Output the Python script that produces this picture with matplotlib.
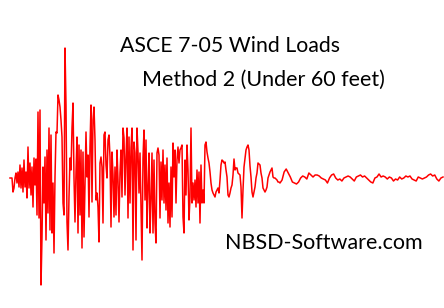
import numpy as np
import matplotlib.pyplot as plt

# amplitude of the trace (pixels above the rest line), one sample per pixel from x=10
head = [0, 0, 0, -14, -10, 0, 5, -5, 6, -9, 13, -10, 10, -14, 18, -9, 6, -20, 31, -10,
        15, -17, 11, -29, 20, -7, 19, -37, 66, -40, 68, -107, -59, 11, -25, 21, -62, 28, -35, 50,
        -52, 43, -55, -5, -75, 1, 46, 45, 83, 78,
        71, 58, 41, -25, -37, 130, 73, -44, -72, -19, 20, 8, 50, 75, 0, -44, 6, 41, -55, 33,
        -37, 28, -70, 26, -59, -5, 46, 1, 23, -39, 31, 73, -24, 58, 71, 38, -22, -15, -29, -64,
        15, 21, 11, -45, 43, 46, 13, 0, 38, 43,
        21, -49, 26, 3, -39, 11, -37, 28, -2, -44, 5, 28, -19, 50, 40, -17, 21, 50, -40, 41,
        -25, 30, 50, -72, 36, 25, -62, 50, 26, -15, 25, -27, -82, 20, 48, -22, 38, -50, -9, 25,
        -55, -22, 25, -55, 18, -45, -65, 25, 30, 23,
        -40, 16, -22, 28, -25, 13, -32, 20, -45, -5, -49, 11, -39, 35, 1, 28, -25, 18, 31, 15,
        28, 30, 33, -39, -55, 18, -17, 33, 8, -42, -19, 50, -25, -5, -22, -2, -29, 8, -25, 6,
        -45, 13, -25, -12, -25, 33, 36, 26, 20, 15,
        6, -5, -12, -15, -17, -19, -14, -12, -10, -15, -2, 13, 18, 17, 15, 16, 8, 1, -17, -19,
        -15, -10, -7, 3, 19, 8, 10, 10, 5, 4, 3, -9, -40, -12, 11, 20, 28, 31, 33, 28,
        12, 1, -14, -19, -14, -9, 0, 5, 15, 14, 13, 5, 0, -10, -12, -14, -12, -9, 0, 3,
        6, 8, 10, 1, 0, 0, -1, -2, -4, -4]

# slow decaying tail, roughly one sample every two pixels
tail = [-5, -2, 6, 9, 5, 1, -4, -5, -6, -4, 0, 2, 1, -1, 5, 3, 1, 3, 3, 2,
        0, -1, -2, -5, 0, 3, 4, 0, -2, -1, -3, 0, 1, 2, 1, -1, -3, 1, 2, 3,
        1, 2, 0, -2, -4, -5, 0, 1, 4, 1, 2, 1, -1, 1, 0, -3, -1, -2, 1, -1,
        0, 2, 1, 2, -1, -2, -3, 1, 0, -1, 0, 1, 3, 4, 2, 3, -1, -3, 0, 1]

x_head = np.arange(10, 10 + len(head))
x_tail = np.linspace(x_head[-1] + 1, 443, len(tail))
x = np.concatenate([x_head, x_tail])
y = np.concatenate([head, tail])

fig = plt.figure(figsize=(4.44, 3.08), dpi=100)
ax = fig.add_axes([0, 0, 1, 1])
ax.plot(x, y, color='#ff0000', lw=1.1)
ax.set_xlim(0, 444)
ax.set_ylim(-130, 178)
ax.axis('off')

fig.text(120 / 444, 1 - 46 / 308, 'ASCE 7-05 Wind Loads', family='Lato', fontsize=15.3,
         va='center', ha='left')
fig.text(142 / 444, 1 - 80 / 308, 'Method 2 (Under 60 feet)', family='Lato', fontsize=15.5,
         va='center', ha='left')
fig.text(225 / 444, 1 - 243 / 308, 'NBSD-Software.com', family='Lato', fontsize=15.5,
         va='center', ha='left')

fig.savefig('out.png', dpi=100)
